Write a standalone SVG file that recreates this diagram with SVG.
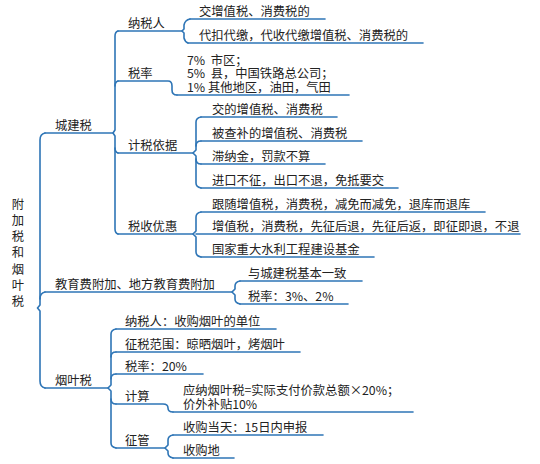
<svg xmlns="http://www.w3.org/2000/svg" width="540" height="464" viewBox="0 0 540 464">
<style>
text{font-family:"Noto Sans CJK SC","Microsoft YaHei",sans-serif;font-size:12.3px;fill:#222;white-space:pre}
.u,.c{fill:none;stroke:#2E75B6;stroke-width:1.6;stroke-linejoin:round;stroke-linecap:round}
</style>
<rect width="540" height="464" fill="#fff"/>
<g id="connectors">
<path class="c" d="M45,133 Q40,134 40,140 L40,305 L37.5,308 L40,311 L40,381 Q40,387 45,388"/>
<path class="c" d="M40,299 Q40,293 45,292"/>
<path class="c" d="M118,31 Q115,32 115,36 L115,130 L113,133 L115,136 L115,229 Q115,233 118,234"/>
<path class="c" d="M115,86 Q115,82 118,81"/>
<path class="c" d="M115,148 Q115,152 118,153"/>
<path class="c" d="M190,19 Q185,20 184,25 L184,29 L182,31 L184,33 L184,38 Q185,42 188,43"/>
<path class="c" d="M201,117 Q196,118 196,122 L196,150 L193,153 L196,156 L196,183 Q196,187 201,188"/>
<path class="c" d="M196,146 Q196,141 201,141"/>
<path class="c" d="M196,159 Q196,164 201,164"/>
<path class="c" d="M201,212 Q196,213 196,217 L196,231 L193,234 L196,237 L196,252 Q196,256 201,257"/>
<path class="c" d="M240,281 Q235,282 235,286 L235,289 L232,292 L235,295 L235,299 Q235,303 240,304"/>
<path class="c" d="M116,329 Q111,330 111,334 L111,385 L108,388 L111,391 L111,443 Q111,447 116,448"/>
<path class="c" d="M111,357 Q111,352 116,352"/>
<path class="c" d="M111,379 Q111,374 116,374"/>
<path class="c" d="M111,399 Q111,404 116,404"/>
<path class="c" d="M173,435 Q168,436 168,440 L168,445 L165,448 L168,451 L168,453 Q168,457 173,458"/>
</g>
<g id="root">
<text x="18" y="208.5" text-anchor="middle"><tspan x="18">附</tspan><tspan x="18" dy="16.3">加</tspan><tspan x="18" dy="16.3">税</tspan><tspan x="18" dy="16.3">和</tspan><tspan x="18" dy="16.3">烟</tspan><tspan x="18" dy="16.3">叶</tspan><tspan x="18" dy="16.3">税</tspan></text>
</g>
<g id="n-chengjianshui"><text x="55" y="130">城建税</text><path class="u" d="M45,133H113"/></g>
<g id="n-jiaoyufei"><text x="55" y="289">教育费附加、地方教育费附加</text><path class="u" d="M45,292H232"/></g>
<g id="n-yanyeshui"><text x="55" y="385">烟叶税</text><path class="u" d="M45,388H108"/></g>

<g id="n-nashuiren"><text x="128" y="28">纳税人</text><path class="u" d="M118,31H182"/></g>
<g id="n-shuilv"><text x="128" y="78">税率</text><path class="u" d="M118,81H168 Q172,81 172,86 L172,90 Q172,95 177,95"/></g>
<g id="n-shuilv-detail"><text x="187" y="64.5"><tspan x="187">7%  市区；</tspan><tspan x="187" dy="13.5">5%  县，中国铁路总公司；</tspan><tspan x="187" dy="13.5">1% 其他地区，油田，气田</tspan></text><path class="u" d="M177,95H349"/></g>
<g id="n-jishuiyiju"><text x="128" y="150">计税依据</text><path class="u" d="M118,153H193"/></g>
<g id="n-shuishouyouhui"><text x="128" y="231">税收优惠</text><path class="u" d="M118,234H193"/></g>

<g id="n-nsr1"><text x="199" y="16">交增值税、消费税的</text><path class="u" d="M190,19H325"/></g>
<g id="n-nsr2"><text x="199" y="40">代扣代缴，代收代缴增值税、消费税的</text><path class="u" d="M188,43H423"/></g>

<g id="n-jy1"><text x="212" y="114">交的增值税、消费税</text><path class="u" d="M201,117H337"/></g>
<g id="n-jy2"><text x="212" y="138">被查补的增值税、消费税</text><path class="u" d="M201,141H362"/></g>
<g id="n-jy3"><text x="212" y="161">滞纳金，罚款不算</text><path class="u" d="M201,164H325"/></g>
<g id="n-jy4"><text x="212" y="185">进口不征，出口不退，免抵要交</text><path class="u" d="M201,188H398"/></g>

<g id="n-yh1"><text x="212" y="209">跟随增值税，消费税，减免而减免，退库而退库</text><path class="u" d="M201,212H485"/></g>
<g id="n-yh2"><text x="212" y="231">增值税，消费税，先征后退，先征后返，即征即退，不退</text><path class="u" d="M196,234H520"/></g>
<g id="n-yh3"><text x="212" y="254">国家重大水利工程建设基金</text><path class="u" d="M201,257H374"/></g>

<g id="n-jf1"><text x="248" y="278">与城建税基本一致</text><path class="u" d="M240,281H362"/></g>
<g id="n-jf2"><text x="248" y="301">税率：3%、2%</text><path class="u" d="M240,304H348"/></g>

<g id="n-yy1"><text x="125" y="326">纳税人：收购烟叶的单位</text><path class="u" d="M116,329H276"/></g>
<g id="n-yy2"><text x="125" y="349">征税范围：晾晒烟叶，烤烟叶</text><path class="u" d="M116,352H300"/></g>
<g id="n-yy3"><text x="125" y="371">税率：20%</text><path class="u" d="M116,374H203"/></g>
<g id="n-yy4"><text x="125" y="401">计算</text><path class="u" d="M116,404H163 Q168,404 168,408 Q168,412 173,412"/></g>
<g id="n-yy4-detail"><text x="183" y="395"><tspan x="183">应纳烟叶税=实际支付价款总额×20%；</tspan><tspan x="183" dy="14">价外补贴10%</tspan></text><path class="u" d="M173,412H413"/></g>
<g id="n-yy5"><text x="125" y="445">征管</text><path class="u" d="M116,448H165"/></g>

<g id="n-zg1"><text x="183" y="432">收购当天：15日内申报</text><path class="u" d="M173,435H323"/></g>
<g id="n-zg2"><text x="183" y="455">收购地</text><path class="u" d="M173,458H234"/></g>
</svg>
